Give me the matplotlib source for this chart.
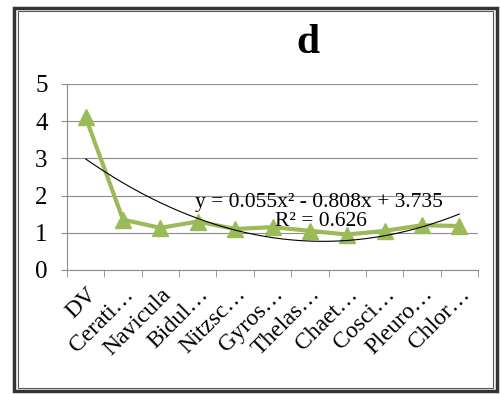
import matplotlib.pyplot as plt
from matplotlib.patches import Rectangle
import numpy as np

plt.rcParams['font.family'] = ['Liberation Serif', 'DejaVu Serif']

categorias = ['DV', 'Cerati…', 'Navicula', 'Bidul…', 'Nitzsc…', 'Gyros…',
              'Thelas…', 'Chaet…', 'Cosci…', 'Pleuro…', 'Chlor…']
valores = [4.1, 1.35, 1.13, 1.3, 1.1, 1.15, 1.05, 0.95, 1.05, 1.2, 1.18]
# coeficientes da linha de tendencia (polinomial, ordem 2)
coef = [0.055, -0.808, 3.735]
r2 = 0.626

fig = plt.figure(figsize=(5, 3.94), dpi=100)
ax = fig.add_axes([0.134, 0.315, 0.822, 0.472])

x = np.arange(1, len(categorias) + 1)
ax.plot(x, valores, color='#9BBB59', linewidth=3, marker='^',
        markersize=11, zorder=3)

xt = np.linspace(1, len(categorias), 200)
ax.plot(xt, np.polyval(coef, xt), color='black', linewidth=0.8, zorder=4)

ax.set_xlim(0.5, len(categorias) + 0.5)
ax.set_ylim(0, 5)
ax.set_yticks(range(0, 6))
ax.grid(axis='y', color='#8c8c8c', linewidth=0.8)
ax.set_axisbelow(True)
for s in ['top', 'right']:
    ax.spines[s].set_visible(False)
for s in ['left', 'bottom']:
    ax.spines[s].set_color('#8c8c8c')

ax.set_xticks(x)
ax.set_xticklabels(categorias, rotation=45, ha='right', rotation_mode='anchor')
ax.set_xticks(np.arange(0.5, len(categorias) + 1, 1), minor=True)
ax.tick_params(axis='x', which='major', length=0, labelsize=17, pad=10)
ax.tick_params(axis='x', which='minor', length=5, color='#8c8c8c')
ax.tick_params(axis='y', length=4, color='#8c8c8c', labelsize=18, pad=10)

ax.text(7.25, 1.8, 'y = 0.055x² - 0.808x + 3.735', fontsize=15.5,
        ha='center', va='center', zorder=5)
ax.text(7.3, 1.29, 'R² = %.3f' % r2, fontsize=15.5,
        ha='center', va='center', zorder=5)

fig.text(0.615, 0.89, 'd', fontsize=30, fontweight='bold',
         ha='center', va='center')

# moldura dupla
fig.patches.append(Rectangle((0.028, 0.008), 0.966, 0.972, transform=fig.transFigure,
                             fill=False, edgecolor='#333333', linewidth=2.5))
fig.patches.append(Rectangle((0.036, 0.016), 0.950, 0.956, transform=fig.transFigure,
                             fill=False, edgecolor='#555555', linewidth=0.8))

fig.savefig('out.png', dpi=100)
